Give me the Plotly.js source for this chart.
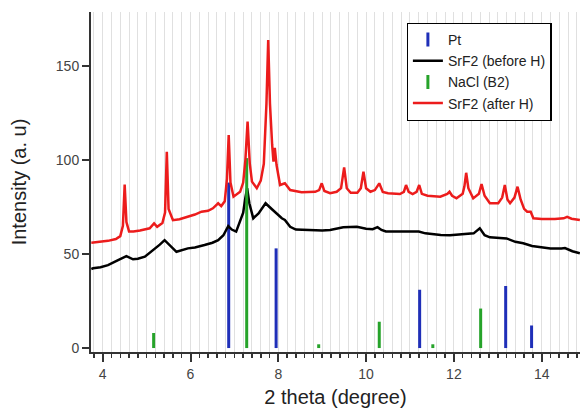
<!DOCTYPE html>
<html>
<head>
<meta charset="utf-8">
<script src="https://cdn.plot.ly/plotly-3.0.1.min.js"></script>
<style>html,body{margin:0;padding:0;background:#fff;}#chart{width:580px;height:408px;}</style>
</head>
<body>
<div id="chart"></div>
<script>
// SrF2 (after H) - red
var afterX = [3.74,3.9,4.12,4.3,4.40,4.46,4.50,4.54,4.60,4.7,4.85,5.07,5.17,5.24,5.36,5.42,5.46,5.50,5.60,5.75,5.94,6.1,6.25,6.4,6.51,6.60,6.63,6.70,6.78,6.83,6.87,6.91,6.98,7.13,7.2,7.25,7.30,7.35,7.40,7.51,7.60,7.67,7.73,7.77,7.81,7.86,7.89,7.92,7.96,8.04,8.15,8.27,8.53,8.84,8.93,8.99,9.05,9.18,9.33,9.43,9.50,9.56,9.65,9.8,9.88,9.94,10.0,10.1,10.2,10.30,10.38,10.5,10.77,10.86,10.91,10.97,11.06,11.15,11.21,11.27,11.4,11.69,11.85,11.90,11.96,12.06,12.20,12.24,12.28,12.33,12.44,12.57,12.63,12.70,12.82,13.01,13.10,13.16,13.22,13.28,13.38,13.45,13.52,13.60,13.67,13.75,13.81,14.0,14.3,14.5,14.58,14.68,14.87];
var afterY = [56,56.5,57,58,59.5,65,87,67,62,62,62.5,63.7,66.3,64.5,66.5,72,104.4,74,68,68.5,69.8,71,72.5,73,74.3,76.5,77,75.5,78,90,113.3,88,80.5,83.1,88,100,120.4,98,88.5,85,89,98,130,163.8,130,108,99.1,106.5,97.3,86.7,87.6,84,82.8,83.1,84,87.6,83.5,82.3,83.1,85,96.1,85,82.6,82.6,85,93.8,85,83.1,84,87.6,83,82.3,81.9,83,86.7,83,81.9,83,86.7,82,81,80.5,82,83.1,81,79.6,82,86,93.2,85,79.6,82,87.2,81,77,77,80,86.7,79,77,80,85.8,79,74,72.5,72.5,69,68.6,68.6,69,69.8,68.8,68.1];

// SrF2 (before H) - black
var beforeX = [3.74,3.78,3.95,4.12,4.35,4.54,4.69,4.8,4.96,5.18,5.30,5.41,5.52,5.68,5.94,6.1,6.32,6.5,6.63,6.75,6.86,6.94,7.04,7.13,7.2,7.25,7.29,7.34,7.43,7.55,7.63,7.71,7.8,7.92,8.08,8.15,8.27,8.4,8.6,8.8,9.0,9.18,9.48,9.79,10.0,10.15,10.26,10.35,10.45,10.7,10.9,11.2,11.35,11.46,11.7,11.91,12.1,12.29,12.45,12.59,12.70,12.82,13.0,13.20,13.4,13.58,13.78,13.96,14.2,14.45,14.53,14.7,14.87];
var beforeY = [42,42.4,43,44.1,46.8,48.9,47.2,47.5,48.6,52.5,55,57.4,55,51.2,53,53.5,54.8,56,57.4,60,64.9,63,61.9,67.2,72,80,85,77,69,71.6,74.5,77,75,72.5,69,68.1,64.5,63,62.8,62.8,62.5,62.8,64.2,64.5,63.5,63.2,64.3,62.8,62,62,61.9,62,61,60.6,60.1,60,60.3,60.6,61,63.7,60,58.9,58.5,58.3,56.5,55.7,54.3,53.6,53,53,53.2,51.5,50.4];

// Reference sticks
var ptPos = [6.87, 7.95, 11.22, 13.18, 13.77];
var ptInt = [88, 53, 31, 33, 12];
var naclPos = [5.16, 7.28, 8.92, 10.30, 11.52, 12.61];
var naclInt = [8, 101, 2, 14, 2, 21];

var legendNames = ["Pt", "SrF2 (before H)", "NaCl (B2)", "SrF2 (after H)"];

var BLUE = '#1f2fb8', GREEN = '#26a32a', RED = '#ec1c1c', BLACK = '#000000';

function sticks(pos, h) {
  var xs = [], ys = [];
  for (var i = 0; i < pos.length; i++) {
    xs.push(pos[i], pos[i], null);
    ys.push(0, h[i], null);
  }
  return {x: xs, y: ys};
}
var pt = sticks(ptPos, ptInt);
var na = sticks(naclPos, naclInt);

var traces = [
  {x: pt.x, y: pt.y, mode: 'lines', line: {color: BLUE, width: 3}, showlegend: false, hoverinfo: 'skip'},
  {x: [null], y: [null], mode: 'markers', name: legendNames[0],
   marker: {symbol: 'line-ns-open', size: 10, color: BLUE, line: {color: BLUE, width: 3}}},
  {x: beforeX, y: beforeY, mode: 'lines', name: legendNames[1], line: {color: BLACK, width: 2.5}},
  {x: na.x, y: na.y, mode: 'lines', line: {color: GREEN, width: 3}, showlegend: false, hoverinfo: 'skip'},
  {x: [null], y: [null], mode: 'markers', name: legendNames[2],
   marker: {symbol: 'line-ns-open', size: 10, color: GREEN, line: {color: GREEN, width: 3}}},
  {x: afterX, y: afterY, mode: 'lines', name: legendNames[3], line: {color: RED, width: 2.5}}
];

var FONT = '"Liberation Sans", Arial, sans-serif';
var GRID = '#e0e0e0';
var layout = {
  width: 580, height: 408,
  margin: {l: 91, r: 0, t: 12, b: 56},
  paper_bgcolor: '#fff', plot_bgcolor: '#fff',
  font: {family: FONT, color: '#333'},
  showlegend: true,
  legend: {
    x: 0.6456, y: 0.9685, xanchor: 'left', yanchor: 'top',
    bgcolor: '#fff', bordercolor: '#000', borderwidth: 1.2,
    font: {family: FONT, size: 14, color: '#222'},
    tracegroupgap: 0
  },
  xaxis: {
    range: [3.733, 14.873],
    tick0: 0, dtick: 2,
    ticks: 'outside', ticklen: 8, tickwidth: 2, tickcolor: '#333',
    showline: true, linecolor: '#333', linewidth: 2,
    showgrid: true, gridcolor: GRID, gridwidth: 1,
    zeroline: false,
    tickfont: {size: 14, color: '#444'},
    minor: {tick0: 0, dtick: 0.2, ticks: 'outside', ticklen: 4, tickwidth: 1.5, tickcolor: '#333',
            showgrid: true, gridcolor: GRID, gridwidth: 1},
    title: {text: '2 theta (degree)', font: {size: 20, color: '#222'}, standoff: 11}
  },
  yaxis: {
    range: [-2.1, 178.7],
    tick0: 0, dtick: 50,
    ticks: 'outside', ticklen: 7, tickwidth: 2, tickcolor: '#333',
    showline: true, linecolor: '#333', linewidth: 2,
    showgrid: false, zeroline: false,
    tickfont: {size: 14, color: '#444'},
    title: {text: 'Intensity (a. u)', font: {size: 20, color: '#222'}, standoff: 24}
  }
};

Plotly.newPlot('chart', traces, layout, {displayModeBar: false, staticPlot: true});
</script>
</body>
</html>
